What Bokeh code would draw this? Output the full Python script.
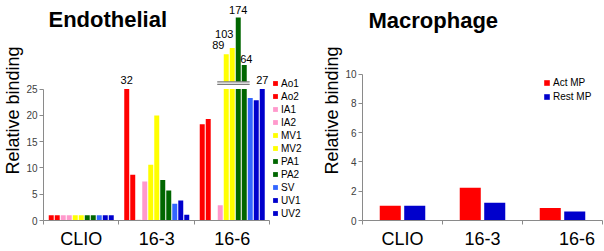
from bokeh.plotting import figure
from bokeh.models import ColumnDataSource, FixedTicker, Range1d, Legend, LegendItem, Label
from bokeh.layouts import row
from bokeh.embed import file_html
from bokeh.resources import INLINE
from bokeh.core.properties import value

# ---------------- data ----------------
groups = ["CLIO", "16-3", "16-6"]
sites = ["Ao1", "Ao2", "IA1", "IA2", "MV1", "MV2", "PA1", "PA2", "SV", "UV1", "UV2"]
site_colors = ["#FF0000", "#FF0000", "#FF99CC", "#FF99CC", "#FFFF00", "#FFFF00",
               "#006600", "#006600", "#3366FF", "#0000CC", "#0000CC"]
endo_clio = [1.0, 1.0, 1.0, 1.0, 1.0, 1.0, 1.0, 1.0, 1.0, 1.0, 1.0]
endo_16_3 = [32.0, 8.7, 0.15, 7.4, 10.6, 20.0, 7.7, 5.7, 3.2, 3.8, 1.1]
endo_16_6 = [18.3, 19.3, 0.0, 2.9, 89.0, 103.0, 174.0, 64.0, 23.3, 22.9, 27.0]
endo_ticks = [0, 5, 10, 15, 20, 25]

macro_series = ["Act MP", "Rest MP"]
macro_colors = ["#FF0000", "#0000CC"]
macro_act = [1.0, 2.24, 0.86]
macro_rest = [1.0, 1.21, 0.61]
macro_ticks = [0, 2, 4, 6, 8, 10]

# ---------------- style / layout ----------------
FONT = "Liberation Sans"
AXIS_COL = "#8a8a8a"
TICK_COL = "#404040"
AXIS_CAP = 25.0       # top of the lower (real) axis
BREAK_MIN = 50.0      # values above this get a broken upper segment
UPPER_BASE = 26.38    # display position where the upper segment starts
UPPER_K = 0.0823      # compression of the upper segment
SLOT = 0.0795         # bar slot inside a category
BAR_W = 0.066

endo_all = [endo_clio, endo_16_3, endo_16_6]
# label offsets (px) for the values drawn above the cap, in order of appearance
label_dx = [0, -8, -8, 0, 2, 0]
label_dy = [-9, -9, -14, -7, -6, -9]


def style_axes(p, yticks, ybound, xlabel_pos):
    p.xgrid.visible = False
    p.ygrid.visible = False
    p.outline_line_color = None
    ya = p.yaxis[0]
    ya.ticker = FixedTicker(ticks=yticks, minor_ticks=[])
    ya.bounds = (0, ybound)
    ya.axis_line_color = AXIS_COL
    ya.major_tick_line_color = AXIS_COL
    ya.major_tick_out = 4
    ya.major_tick_in = 0
    ya.minor_tick_line_color = None
    ya.major_label_text_font = FONT
    ya.major_label_text_font_size = "10px"
    ya.major_label_text_color = TICK_COL
    ya.major_label_standoff = 2
    ya.axis_label = "Relative binding"
    ya.axis_label_text_font = FONT
    ya.axis_label_text_font_style = "normal"
    ya.axis_label_text_font_size = "18px"
    ya.axis_label_text_color = "#000000"
    ya.axis_label_standoff = 0
    xa = p.xaxis[0]
    xa.ticker = FixedTicker(ticks=xlabel_pos, minor_ticks=[0, 1, 2, 3])
    xa.major_label_overrides = {t: g for t, g in zip(xlabel_pos, groups)}
    xa.bounds = (0, 3)
    xa.axis_line_color = AXIS_COL
    xa.major_tick_line_color = None
    xa.major_tick_out = 0
    xa.major_tick_in = 0
    xa.minor_tick_line_color = AXIS_COL
    xa.minor_tick_out = 4
    xa.minor_tick_in = 0
    xa.major_label_text_font = FONT
    xa.major_label_text_font_size = "18px"
    xa.major_label_text_color = "#000000"
    xa.major_label_standoff = 4


# ---------------- Endothelial ----------------
p1 = figure(width=304, height=251, x_range=Range1d(0, 3.457), y_range=Range1d(0, 41.86),
            output_backend="svg", toolbar_location=None,
            min_border_left=43, min_border_right=0, min_border_top=0, min_border_bottom=30)
style_axes(p1, endo_ticks, 25, [0.5, 1.5, 2.5])

items = []
up_x, up_top, up_col = [], [], []
lab_x, lab_y, lab_t = [], [], []
for j, (site, col) in enumerate(zip(sites, site_colors)):
    xs = [g + 0.5 + (j - 5) * SLOT for g in range(len(groups))]
    vals = [series[j] for series in endo_all]
    tops = [min(v, AXIS_CAP) for v in vals]
    r = p1.vbar(x=xs, top=tops, width=BAR_W, bottom=0, fill_color=col, line_color=None)
    items.append(LegendItem(label=site, renderers=[r]))
for g, series in enumerate(endo_all):
    for j, v in enumerate(series):
        x = g + 0.5 + (j - 5) * SLOT
        if v > AXIS_CAP:
            if v >= BREAK_MIN:
                top = UPPER_BASE + (v - AXIS_CAP) * UPPER_K
                up_x.append(x)
                up_top.append(top)
                up_col.append(site_colors[j])
            else:
                top = AXIS_CAP
            lab_x.append(x)
            lab_y.append(top)
            lab_t.append("%d" % round(v))

p1.vbar(x=up_x, top=up_top, bottom=UPPER_BASE, width=BAR_W, fill_color=up_col, line_color=None)
# axis break marks
bx0 = min(up_x) - 1.5 * SLOT
bx1 = max(up_x) + 0.9 * SLOT
p1.segment(x0=[bx0, bx0], x1=[bx1, bx1], y0=[UPPER_BASE, UPPER_BASE - 0.49],
           y1=[UPPER_BASE, UPPER_BASE - 0.49], line_color="#7a7a7a", line_width=1.2)
lab_src = ColumnDataSource(dict(x=lab_x, y=lab_y, t=lab_t,
                                dx=label_dx[:len(lab_x)], dy=label_dy[:len(lab_x)]))
p1.text(x="x", y="y", text="t", x_offset="dx", y_offset="dy", source=lab_src,
        text_align="center", text_baseline="alphabetic",
        text_font=value(FONT), text_font_size="11px", text_color="#000000")

p1.add_layout(Label(x=0.066, y=38.25, text="Endothelial", text_font=FONT,
                    text_baseline="alphabetic",
                    text_font_style="bold", text_font_size="22px", text_color="#000000"))
leg1 = Legend(items=items, location=(229, 1), glyph_width=6, glyph_height=6,
              label_height=12, label_standoff=3, spacing=1, padding=0, margin=0,
              border_line_color=None, background_fill_alpha=0,
              label_text_font=FONT, label_text_font_size="10px", label_text_color="#000000")
p1.add_layout(leg1)

# ---------------- Macrophage ----------------
p2 = figure(width=300, height=251, x_range=Range1d(0, 3), y_range=Range1d(0, 15.03),
            output_backend="svg", toolbar_location=None,
            min_border_left=58, min_border_right=2, min_border_top=0, min_border_bottom=30)
style_axes(p2, macro_ticks, 10, [0.5, 1.5, 2.68])

m_items = []
for k, (name, col, vals) in enumerate(zip(macro_series, macro_colors, [macro_act, macro_rest])):
    xs = [g + 0.5 + (k - 0.5) * 0.306 for g in range(len(groups))]
    r = p2.vbar(x=xs, top=vals, bottom=0, width=0.263, fill_color=col, line_color=None)
    m_items.append(LegendItem(label=name, renderers=[r]))

p2.add_layout(Label(x=0.075, y=13.68, text="Macrophage", text_font=FONT,
                    text_baseline="alphabetic",
                    text_font_style="bold", text_font_size="22px", text_color="#000000"))
leg2 = Legend(items=m_items, location=(181, 117), glyph_width=7, glyph_height=7,
              label_height=14, label_standoff=3, spacing=0, padding=0, margin=0,
              border_line_color=None, background_fill_alpha=0,
              label_text_font=FONT, label_text_font_size="10px", label_text_color="#000000")
p2.add_layout(leg2)

layout = row(p1, p2)
open("out.html", "w").write(file_html(layout, INLINE))
